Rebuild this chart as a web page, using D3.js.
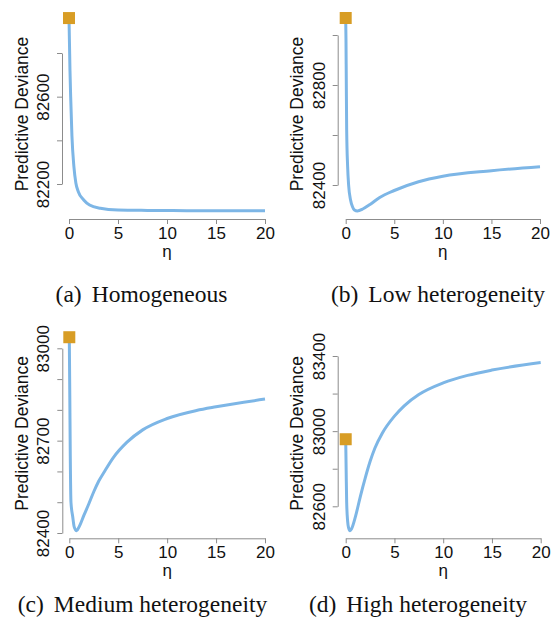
<!DOCTYPE html>
<html>
<head>
<meta charset="utf-8">
<script src="https://cdn.jsdelivr.net/npm/d3@7"></script>
<style>
  body { margin: 0; background: #fff; }
  svg { display: block; }
  .axis path, .axis line { stroke: #8c8c8c; stroke-width: 1; }
  .axis text { font-family: "Liberation Sans", Arial, sans-serif; font-size: 17px; fill: #111; }
  .lab { font-family: "Liberation Sans", Arial, sans-serif; fill: #111; }
  .cap { font-family: "Liberation Serif", "Times New Roman", serif; font-size: 23.5px; fill: #111; }
</style>
</head>
<body>
<div id="chart"></div>
<script>
// eta grid and predictive deviance
const etaA = [0, 0.05, 0.1, 0.17, 0.3, 0.5, 0.7, 0.95, 1.5, 2.1, 3.2, 5, 8, 12, 16, 20];
const devA = [82960, 82840, 82720, 82600, 82420, 82280, 82205, 82165, 82127, 82104, 82089, 82081, 82079, 82078, 82078, 82078];

const etaB = [0, 0.03, 0.06, 0.1, 0.2, 0.3, 0.5, 0.7, 0.9, 1.2, 1.8, 2.5, 3.5, 5, 7.5, 10, 15, 20];
const devB = [83068, 82980, 82820, 82620, 82473, 82400, 82340, 82313, 82300, 82296, 82305, 82322, 82350, 82378, 82413, 82435, 82457, 82473];

const etaC = [0, 0.05, 0.1, 0.17, 0.35, 0.5, 0.75, 1, 1.5, 2, 2.5, 3, 3.6, 4.5, 5.9, 7.5, 10, 13, 15, 20];
const devC = [83036, 82850, 82650, 82500, 82453, 82420, 82407, 82420, 82458, 82495, 82534, 82568, 82600, 82645, 82695, 82735, 82772, 82798, 82810, 82835];

const etaD = [0, 0.05, 0.1, 0.2, 0.3, 0.44, 0.6, 1, 1.5, 2, 2.5, 3, 3.75, 5, 6, 7.5, 10, 12.5, 15, 20];
const devD = [82957, 82780, 82620, 82520, 82485, 82470, 82480, 82545, 82652, 82750, 82838, 82910, 82989, 83080, 83135, 83195, 83257, 83297, 83325, 83365];

const xTicks = [0, 5, 10, 15, 20];
const yTicksA = [82200, 82400, 82600, 82800];
const yLabelsA = [82200, 82600];
const yTicksB = [82400, 82600, 82800, 83000];
const yLabelsB = [82400, 82800];
const yTicksC = [82400, 82500, 82600, 82700, 82800, 82900, 83000];
const yLabelsC = [82400, 82700, 83000];
const yTicksD = [82600, 82800, 83000, 83200, 83400];
const yLabelsD = [82600, 83000, 83400];

const captions = ['(a)', '(b)', '(c)', '(d)'];
const captionNames = ['Homogeneous', 'Low heterogeneity', 'Medium heterogeneity', 'High heterogeneity'];

// layout of each panel (pixels)
const panels = [
  {eta: etaA, dev: devA, yt: yTicksA, yl: yLabelsA, x0: 69, x1: 265, axisY: 219, axisX: 62, yPx: [184, 53], capX: 141.5, capY: 301.5},
  {eta: etaB, dev: devB, yt: yTicksB, yl: yLabelsB, x0: 345.7, x1: 540, axisY: 219, axisX: 337.7, yPx: [185, 35], capX: 438, capY: 301.5},
  {eta: etaC, dev: devC, yt: yTicksC, yl: yLabelsC, x0: 69.3, x1: 265, axisY: 538.3, axisX: 62.3, yPx: [533, 348.3], capX: 142.5, capY: 612},
  {eta: etaD, dev: devD, yt: yTicksD, yl: yLabelsD, x0: 345.7, x1: 540.7, axisY: 538.3, axisX: 337.7, yPx: [506.3, 356], capX: 418, capY: 612}
];

const svg = d3.select('#chart').append('svg')
  .attr('width', 559)
  .attr('height', 629);

panels.forEach((p, i) => {
  const x = d3.scaleLinear().domain([0, 20]).range([p.x0, p.x1]);
  const y = d3.scaleLinear().domain([p.yt[0], p.yt[p.yt.length - 1]]).range(p.yPx);

  // x axis
  svg.append('g')
    .attr('class', 'axis')
    .attr('transform', 'translate(0,' + p.axisY + ')')
    .call(d3.axisBottom(x).tickValues(xTicks).tickSize(5).tickSizeOuter(0).tickPadding(3));

  // y axis, labels parallel to the axis
  const yg = svg.append('g')
    .attr('class', 'axis')
    .attr('transform', 'translate(' + p.axisX + ',0)')
    .call(d3.axisLeft(y).tickValues(p.yt).tickSize(5).tickSizeOuter(0)
      .tickFormat(d => p.yl.includes(d) ? String(d) : ''));
  yg.selectAll('text')
    .attr('transform', 'rotate(-90)')
    .attr('x', 0)
    .attr('y', -13)
    .attr('dy', 0)
    .attr('text-anchor', 'middle');
  svg.selectAll('.domain').attr('fill', 'none');

  // axis titles
  svg.append('text')
    .attr('class', 'lab')
    .attr('font-size', 17.5)
    .attr('text-anchor', 'middle')
    .attr('transform', 'translate(' + (p.axisX - 34.5) + ',' + (p.axisY - 105) + ') rotate(-90)')
    .text('Predictive Deviance');
  svg.append('text')
    .attr('class', 'lab')
    .attr('font-size', 17)
    .attr('text-anchor', 'middle')
    .attr('x', (p.x0 + p.x1) / 2)
    .attr('y', p.axisY + 38)
    .text('η');

  // curve
  const pts = p.eta.map((e, j) => ({eta: e, dev: p.dev[j]}));
  const line = d3.line()
    .x(d => x(d.eta))
    .y(d => y(d.dev))
    .curve(d3.curveMonotoneX);
  svg.append('path')
    .attr('d', line(pts))
    .attr('fill', 'none')
    .attr('stroke', '#7db6e6')
    .attr('stroke-width', 3)
    .attr('stroke-linejoin', 'round');

  // starting point marker
  svg.append('rect')
    .attr('x', x(pts[0].eta) - 6)
    .attr('y', y(pts[0].dev) - 6)
    .attr('width', 12)
    .attr('height', 12)
    .attr('fill', '#d89d25');

  // caption
  const cap = svg.append('text')
    .attr('class', 'cap')
    .attr('text-anchor', 'middle')
    .attr('x', p.capX)
    .attr('y', p.capY);
  cap.append('tspan').text(captions[i]);
  cap.append('tspan').attr('dx', 10).text(captionNames[i]);
});
</script>
</body>
</html>
